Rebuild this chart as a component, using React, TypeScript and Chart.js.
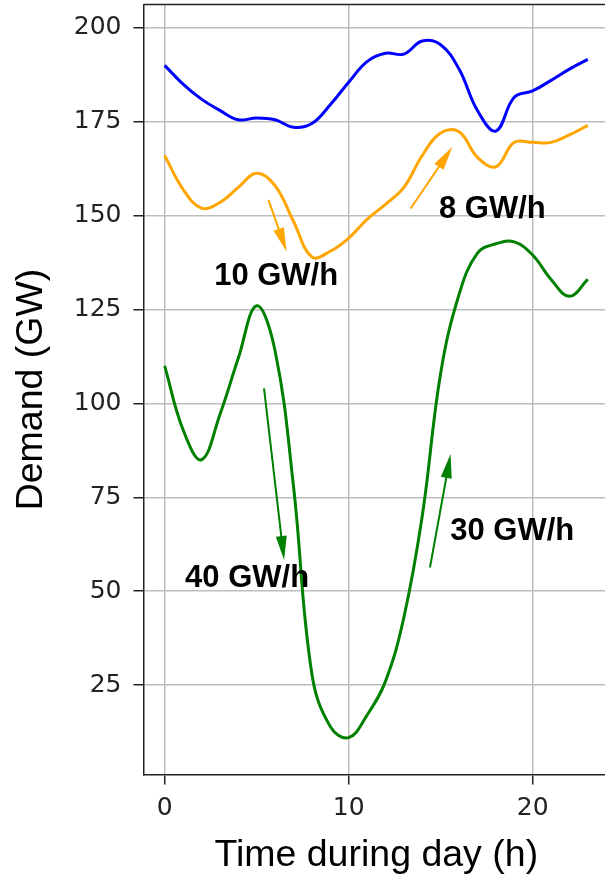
import React, { useEffect, useRef } from 'react';
import { Chart, registerables } from 'chart.js';

Chart.register(...registerables);

// ---- data ----
const hours = [0, 1, 2, 3, 4, 5, 6, 7, 8, 9, 10, 11, 12, 13, 14, 15, 16, 17, 18, 19, 20, 21, 22, 23];
const blueDemand = [190, 185, 181, 178, 175.5, 176, 175.5, 173.5, 174.5, 179.5, 185.5, 191, 193.2, 193, 196.5, 195.5, 189, 178, 172.5, 181.5, 183.2, 186, 189, 191.6];
const orangeDemand = [166, 157, 152, 153.5, 157.5, 161.3, 158, 148.5, 139, 140.5, 144, 149, 153, 157.5, 166, 172, 172.3, 165.5, 163, 169.5, 169.5, 169.5, 171.5, 174];
const greenDemand = [110, 93, 85, 97, 112, 126, 114, 78, 28, 14, 11, 17, 26, 43, 70, 108, 129, 140, 142.5, 143, 139.5, 133, 128.5, 133];

const xTickValues = [0, 10, 20];
const yTickValues = [25, 50, 75, 100, 125, 150, 175, 200];

// ramp annotations (data units)
const rampLabels = ['10 GW/h', '8 GW/h', '40 GW/h', '30 GW/h'];
const arrowStartX = [5.64, 13.37, 5.4, 14.42];
const arrowStartY = [154.2, 151.9, 104.0, 56.3];
const arrowEndX = [6.63, 15.64, 6.49, 15.54];
const arrowEndY = [140.4, 168.3, 58.3, 86.5];
const labelX = [6.06, 17.81, 4.48, 18.89];
const labelY = [131.5, 149.3, 51.2, 63.6];

// ---- styles ----
const arrowColors = ['#ffa500', '#ffa500', '#008000', '#008000'];
const SPINE = '#222222';
const GRID = '#bdbdbd';

const toPoints = (ys: number[]) => hours.map((h, i) => ({ x: h, y: ys[i] }));

const framePlugin = {
  id: 'frameAndRamps',
  afterDatasetsDraw(chart: any) {
    const { ctx, chartArea, scales } = chart;
    const x = scales.x;
    const y = scales.y;
    ctx.save();
    // top and right spines
    ctx.strokeStyle = SPINE;
    ctx.lineWidth = 1.5;
    ctx.beginPath();
    ctx.moveTo(chartArea.left, chartArea.top);
    ctx.lineTo(chartArea.right, chartArea.top);
    ctx.lineTo(chartArea.right, chartArea.bottom);
    ctx.stroke();

    // arrows
    const headLen = 24;
    const headW = 11;
    for (let i = 0; i < rampLabels.length; i++) {
      const x0 = x.getPixelForValue(arrowStartX[i]);
      const y0 = y.getPixelForValue(arrowStartY[i]);
      const x1 = x.getPixelForValue(arrowEndX[i]);
      const y1 = y.getPixelForValue(arrowEndY[i]);
      const dx = x1 - x0;
      const dy = y1 - y0;
      const len = Math.hypot(dx, dy);
      const ux = dx / len;
      const uy = dy / len;
      const bx = x1 - ux * headLen;
      const by = y1 - uy * headLen;
      const nx = -uy;
      const ny = ux;
      ctx.strokeStyle = arrowColors[i];
      ctx.fillStyle = arrowColors[i];
      ctx.lineWidth = 2;
      ctx.beginPath();
      ctx.moveTo(x0, y0);
      ctx.lineTo(bx + ux * 2, by + uy * 2);
      ctx.stroke();
      ctx.beginPath();
      ctx.moveTo(x1, y1);
      ctx.lineTo(bx + nx * headW / 2, by + ny * headW / 2);
      ctx.lineTo(bx - nx * headW / 2, by - ny * headW / 2);
      ctx.closePath();
      ctx.fill();
    }

    // labels
    ctx.fillStyle = '#000000';
    ctx.font = 'bold 31px "Liberation Sans", Arial, sans-serif';
    ctx.textAlign = 'center';
    ctx.textBaseline = 'alphabetic';
    for (let i = 0; i < rampLabels.length; i++) {
      ctx.fillText(rampLabels[i], x.getPixelForValue(labelX[i]), y.getPixelForValue(labelY[i]));
    }
    ctx.restore();
  },
};

export default function App() {
  const canvasRef = useRef<HTMLCanvasElement | null>(null);

  useEffect(() => {
    const canvas = canvasRef.current;
    if (!canvas) return;
    const tickFont = { family: '"DejaVu Sans", sans-serif', size: 25 };
    const titleFont = { family: '"Liberation Sans", Arial, sans-serif', size: 37.5 };
    const chart = new Chart(canvas, {
      type: 'line',
      data: {
        datasets: [
          { data: toPoints(blueDemand), borderColor: '#0000ff' },
          { data: toPoints(orangeDemand), borderColor: '#ffa500' },
          { data: toPoints(greenDemand), borderColor: '#008000' },
        ],
      },
      options: {
        responsive: false,
        animation: false,
        devicePixelRatio: 1,
        layout: { padding: { top: 4.5, right: 16, left: 0, bottom: 0 } },
        plugins: { legend: { display: false }, tooltip: { enabled: false } },
        elements: {
          point: { radius: 0 },
          line: { tension: 0.4, borderWidth: 3, fill: false },
        },
        scales: {
          x: {
            type: 'linear',
            min: -1.15,
            max: 24.15,
            afterBuildTicks: (s: any) => {
              s.ticks = xTickValues.map((v) => ({ value: v }));
            },
            afterFit: (s: any) => {
              s.height = 106.5;
              s.paddingLeft = 0;
              s.paddingRight = 0;
              s.paddingTop = 0;
              s.paddingBottom = 0;
            },
            ticks: { font: tickFont, color: '#222222', padding: 8.5, maxRotation: 0, autoSkip: false },
            grid: { color: GRID, lineWidth: 1.5, tickColor: SPINE, tickWidth: 1.5, tickLength: 10 },
            border: { color: SPINE, width: 1.5 },
            title: {
              display: true,
              text: 'Time during day (h)',
              font: titleFont,
              color: '#000000',
              padding: { top: 0, bottom: 3 },
            },
          },
          y: {
            type: 'linear',
            min: 1.2,
            max: 206.2,
            afterBuildTicks: (s: any) => {
              s.ticks = yTickValues.map((v) => ({ value: v }));
            },
            afterFit: (s: any) => {
              s.width = 143.5;
              s.paddingLeft = 0;
              s.paddingRight = 0;
              s.paddingTop = 0;
              s.paddingBottom = 0;
            },
            ticks: { font: tickFont, color: '#222222', padding: 12, autoSkip: false },
            grid: { color: GRID, lineWidth: 1.5, tickColor: SPINE, tickWidth: 1.5, tickLength: 10 },
            border: { color: SPINE, width: 1.5 },
            title: {
              display: true,
              text: 'Demand (GW)',
              font: titleFont,
              color: '#000000',
              padding: { top: 9, bottom: 0 },
            },
          },
        },
      },
      plugins: [framePlugin],
    } as any);
    return () => chart.destroy();
  }, []);

  return (
    <div style={{ position: 'absolute', left: 0, top: 0, width: 605, height: 881, overflow: 'hidden', background: '#ffffff' }}>
      <canvas ref={canvasRef} width={625} height={881} style={{ display: 'block' }} />
    </div>
  );
}
